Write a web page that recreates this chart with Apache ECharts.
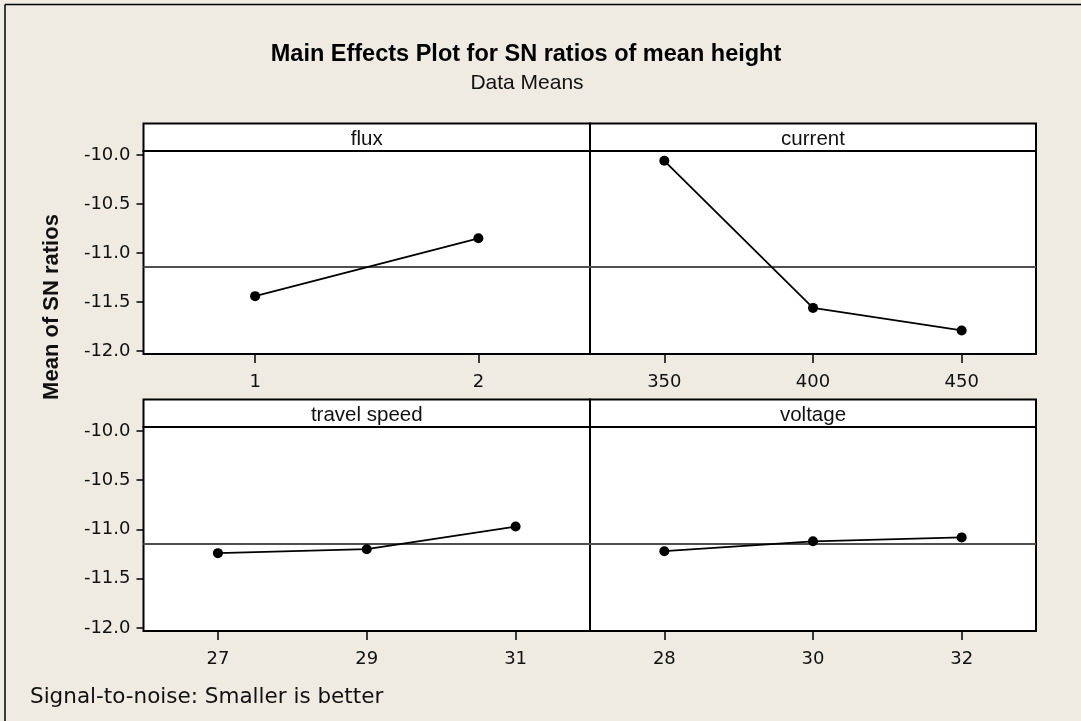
<!DOCTYPE html>
<html>
<head>
<meta charset="utf-8">
<script src="https://cdn.jsdelivr.net/npm/echarts@6/dist/echarts.min.js"></script>
<style>
html,body{margin:0;padding:0;background:#EFEBE2;}
#chart{width:1081px;height:721px;}
</style>
</head>
<body>
<div id="chart"></div>
<script>
// ---- data ----
const fluxLevels = ['1', '2'];
const fluxSN = [-11.44, -10.85];
const currentLevels = ['350', '400', '450'];
const currentSN = [-10.06, -11.56, -11.79];
const speedLevels = ['27', '29', '31'];
const speedSN = [-11.24, -11.20, -10.97];
const voltageLevels = ['28', '30', '32'];
const voltageSN = [-11.22, -11.12, -11.08];
const grandMean = -11.145;
const yTicks = [-12.0, -11.5, -11.0, -10.5, -10.0];
const panelNames = ['flux', 'current', 'travel speed', 'voltage'];
const titleText = 'Main Effects Plot for SN ratios of mean height';
const subtitleText = 'Data Means';
const yAxisTitle = 'Mean of SN ratios';
const footerText = 'Signal-to-noise: Smaller is better';

// ---- layout ----
const grids = [
  {left: 143.5, top: 151, width: 446.5, height: 203},
  {left: 590,   top: 151, width: 446,   height: 203},
  {left: 143.5, top: 427, width: 446.5, height: 204},
  {left: 590,   top: 427, width: 446,   height: 204}
];
const stripH = 27.5;
const levels = [fluxLevels, currentLevels, speedLevels, voltageLevels];
const values = [fluxSN, currentSN, speedSN, voltageSN];
const tickFont = 'DejaVu Sans';
const labelFont = 'Liberation Sans';

const chart = echarts.init(document.getElementById('chart'));

const option = {
  backgroundColor: '#EFEBE2',
  animation: false,
  grid: grids.map(g => ({
    left: g.left, top: g.top, width: g.width, height: g.height,
    show: true, backgroundColor: '#ffffff', borderColor: '#000', borderWidth: 2, z: 1
  })),
  xAxis: levels.map((lv, i) => ({
    type: 'category', gridIndex: i, data: lv, boundaryGap: true,
    axisLine: {show: false},
    axisTick: {show: true, alignWithLabel: true, inside: false, length: 9, lineStyle: {color: '#000', width: 1.5}},
    axisLabel: {show: true, margin: 19, color: '#111', fontFamily: tickFont, fontSize: 18},
    splitLine: {show: false}
  })),
  yAxis: grids.map((g, i) => ({
    type: 'value', gridIndex: i, min: -12.03, max: -9.96,
    axisLine: {show: false},
    axisTick: {show: i % 2 === 0, inside: false, length: 7, customValues: yTicks, lineStyle: {color: '#000', width: 1.5}},
    axisLabel: {show: i % 2 === 0, margin: 13, customValues: yTicks, color: '#111', fontFamily: tickFont, fontSize: 18,
      formatter: v => Number(v).toFixed(1)},
    splitLine: {show: false}
  })),
  series: values.map((vals, i) => ({
    type: 'line', xAxisIndex: i, yAxisIndex: i, data: vals,
    symbol: 'circle', symbolSize: 10,
    itemStyle: {color: '#000'},
    lineStyle: {color: '#000', width: 1.8},
    z: 5,
    markLine: {
      silent: true, symbol: 'none', label: {show: false},
      lineStyle: {color: '#505050', width: 1.8, type: 'solid'},
      data: [{yAxis: grandMean}], z: 3
    }
  })),
  graphic: [
    // outer frame (top and left visible)
    {type: 'line', shape: {x1: 5, y1: 4.5, x2: 1081, y2: 4.5}, style: {stroke: '#000', lineWidth: 1.5}, z: 10},
    {type: 'line', shape: {x1: 5, y1: 4.5, x2: 5, y2: 721}, style: {stroke: '#000', lineWidth: 1.5}, z: 10},
    // strips
    ...grids.map((g, i) => ({
      type: 'rect', shape: {x: g.left, y: g.top - stripH, width: g.width, height: stripH},
      style: {fill: '#fff', stroke: '#000', lineWidth: 2}, z: 10
    })),
    ...grids.map((g, i) => ({
      type: 'text', x: g.left + g.width / 2, y: g.top - stripH / 2 + 2,
      style: {text: panelNames[i], fill: '#111', font: '20.5px "' + labelFont + '"', textAlign: 'center', textVerticalAlign: 'middle'}, z: 11
    })),
    {type: 'text', x: 526, y: 55,
      style: {text: titleText, fill: '#000', font: 'bold 23.5px "' + labelFont + '"', textAlign: 'center', textVerticalAlign: 'middle'}, z: 11},
    {type: 'text', x: 527, y: 83,
      style: {text: subtitleText, fill: '#111', font: '21px "' + labelFont + '"', textAlign: 'center', textVerticalAlign: 'middle'}, z: 11},
    {type: 'text', x: 52, y: 307, rotation: Math.PI / 2,
      style: {text: yAxisTitle, fill: '#111', font: 'bold 22px "' + labelFont + '"', textAlign: 'center', textVerticalAlign: 'middle'}, z: 11},
    {type: 'text', x: 30, y: 697,
      style: {text: footerText, fill: '#111', font: '21.5px "' + tickFont + '"', textAlign: 'left', textVerticalAlign: 'middle'}, z: 11}
  ]
};
chart.setOption(option);
</script>
</body>
</html>
